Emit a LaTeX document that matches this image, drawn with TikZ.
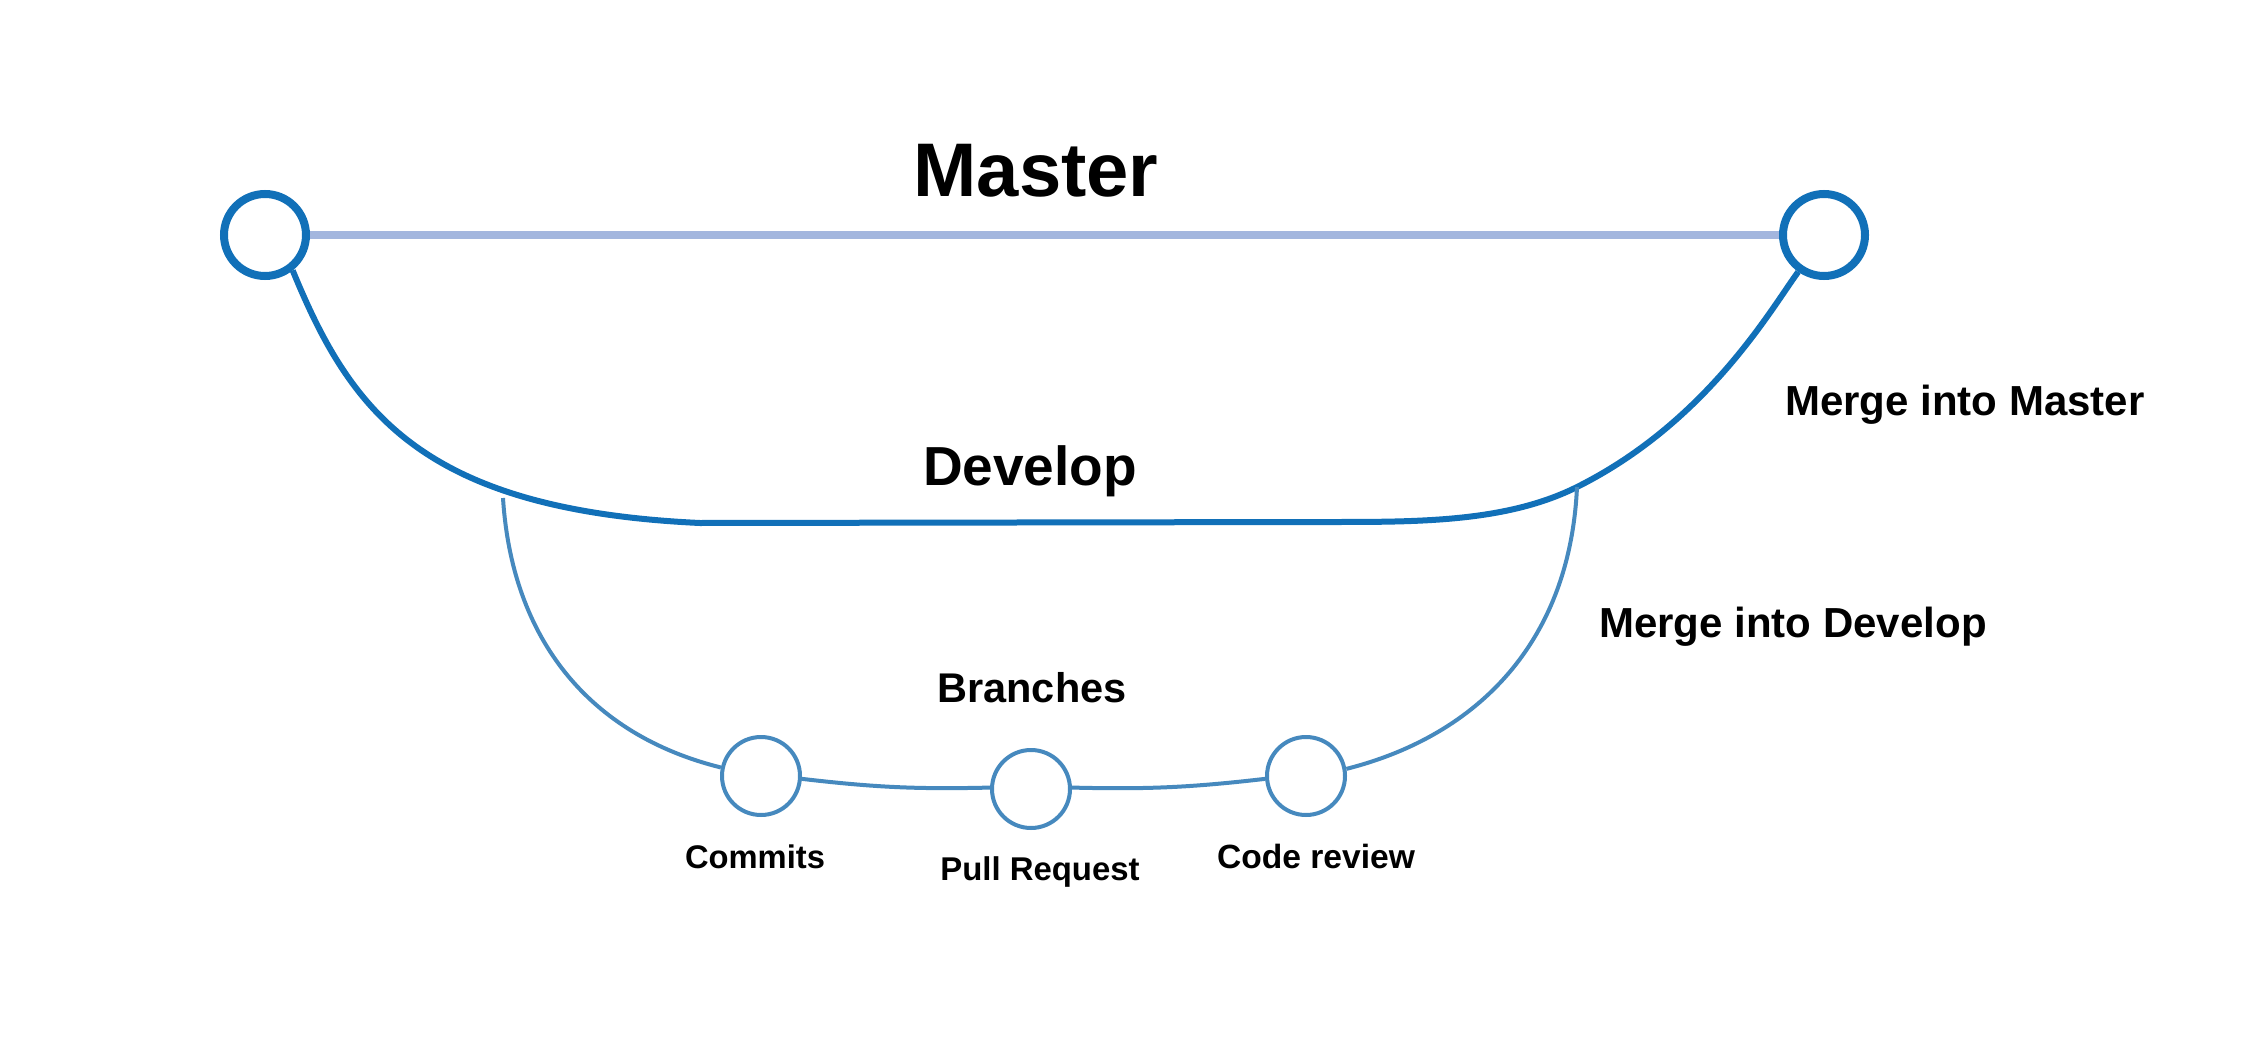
\documentclass[tikz,border=0pt]{standalone}
\usepackage{fontspec}
\setmainfont{Liberation Sans}
\definecolor{dblue}{HTML}{1170B8}
\definecolor{lblue}{HTML}{A3B6DE}
\definecolor{bblue}{HTML}{4689BE}
\begin{document}
\begin{tikzpicture}[x=1pt,y=-1pt,
  mastercirc/.style={circle,draw=dblue,line width=8pt,fill=white,minimum size=82pt,inner sep=0pt},
  branchcirc/.style={circle,draw=bblue,line width=4pt,fill=white,minimum size=78pt,inner sep=0pt},
  lbl/.style={anchor=base,inner sep=0pt,font=\bfseries},
  masterline/.style={draw=lblue,line width=8pt},
  devline/.style={draw=dblue,line width=6pt},
  brline/.style={draw=bblue,line width=4pt}]
\fill[white] (0,0) rectangle (2268,1043);
\useasboundingbox (0,0) rectangle (2268,1043);
% master nodes
\node[mastercirc] (m1) at (265,235) {};
\node[mastercirc] (m2) at (1824,235) {};
\draw[masterline] (m1) -- (m2);
% develop curve
\coordinate (dl) at (700,523);
\coordinate (dr) at (1330,522);
\coordinate (bl) at (503,498);
\coordinate (br) at (1577,487);
\draw[devline] (m1.-52) .. controls (350,410) and (420,510) .. (dl) -- (dr)
  .. controls (1420,522) and (1507,522) .. (br)
  .. controls (1707,422) and (1771,309) .. (m2.-125);
% branch nodes
\node[branchcirc] (c1) at (761,776) {};
\node[branchcirc] (c2) at (1031,789) {};
\node[branchcirc] (c3) at (1306,776) {};
\draw[brline] (bl) .. controls (512,640) and (590,735) .. (c1.168);
\draw[brline] (c1.-4) to[bend right=4] (c2.178);
\draw[brline] (c2.2) to[bend right=4] (c3.-176);
\draw[brline] (c3.10) .. controls (1480,735) and (1570,640) .. (br);
% labels
\node[lbl,font=\bfseries\fontsize{76}{80}\selectfont] (tm) at (1036,197) {Master};
\node[lbl,font=\bfseries\fontsize{55}{60}\selectfont] (td) at (1030,485) {Develop};
\node[lbl,font=\bfseries\fontsize{42}{46}\selectfont] (tmm) at (1965,415) {Merge into Master};
\node[lbl,font=\bfseries\fontsize{42}{46}\selectfont] (tmd) at (1793,637) {Merge into Develop};
\node[lbl,font=\bfseries\fontsize{41.5}{46}\selectfont] (tb) at (1032,702) {Branches};
\node[lbl,font=\bfseries\fontsize{32.7}{36}\selectfont] (tc1) at (755,868) {Commits};
\node[lbl,font=\bfseries\fontsize{32.9}{36}\selectfont] (tc2) at (1040,880) {Pull Request};
\node[lbl,font=\bfseries\fontsize{33.6}{36}\selectfont] (tc3) at (1316,868) {Code review};
\end{tikzpicture}
\end{document}
